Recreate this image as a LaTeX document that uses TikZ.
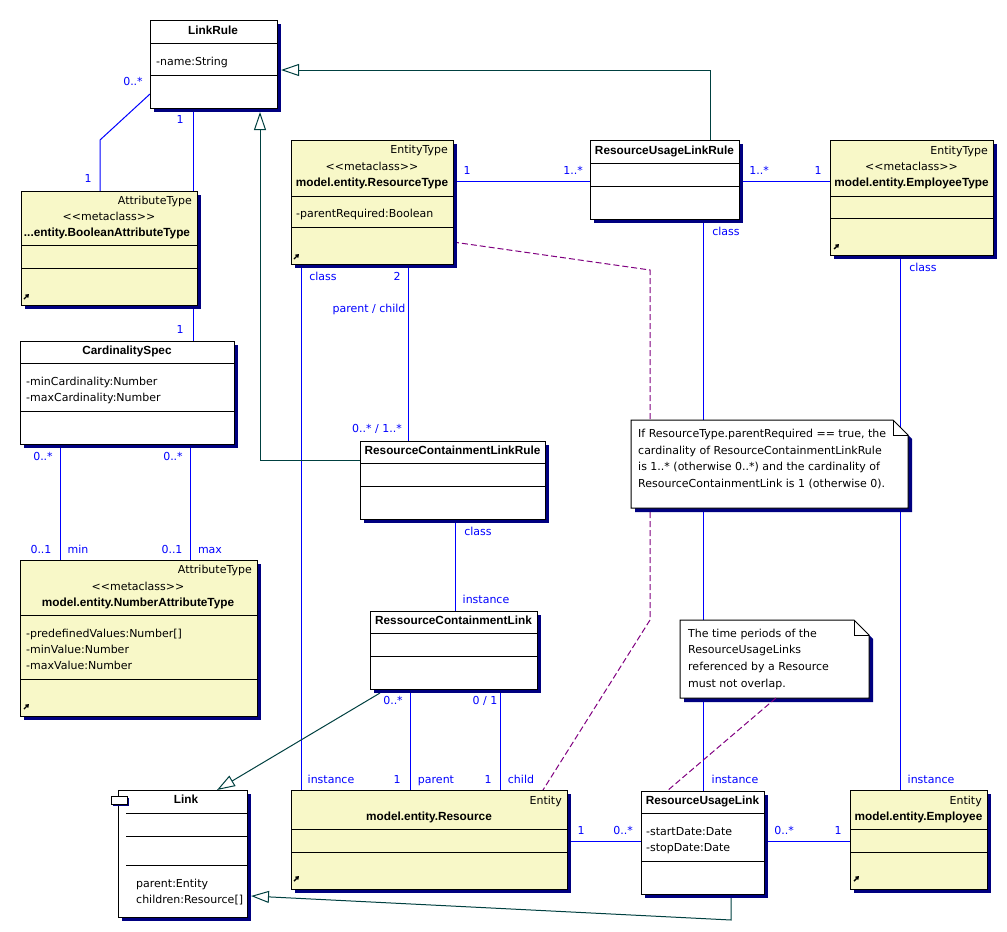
\documentclass[tikz,border=0pt]{standalone}
\usepackage{fontspec}
\setmainfont{DejaVu Sans}
\newfontfamily\bfam{Liberation Sans}
\usetikzlibrary{arrows.meta}
\definecolor{umlfill}{RGB}{248,248,200}
\definecolor{shadowc}{RGB}{0,0,128}
\definecolor{assocc}{RGB}{0,0,255}
\definecolor{genc}{RGB}{0,64,64}
\definecolor{notec}{RGB}{128,0,128}
\pgfdeclarelayer{bg}
\pgfsetlayers{bg,main}
\newcommand\ubox[6]{%
  \fill[shadowc] (#2+4,#3+4) rectangle (#4+4,#5+4);
  \node[draw=black, fill=#6, line width=1pt, inner sep=0pt, outer sep=0pt,
        minimum width={#4-#2}, minimum height={#5-#3}, anchor=north west] (#1) at (#2,#3) {};}
\newcommand\cmpline[3]{\draw[line width=1pt] (#1,#3) -- (#2,#3);}
\newcommand\icn[2]{\draw[line width=1.4pt,-{Triangle[length=3.5pt,width=4.5pt]}] (#1-2,#2+3) -- ++(5,-5);}
\newcommand\Tc[4]{\node[txt,anchor=base] (#1) at (#2,#3+4) {#4};}
\newcommand\Tl[4]{\node[txt,anchor=base west] (#1) at (#2,#3+4) {#4};}
\newcommand\Tr[4]{\node[txt,anchor=base east] (#1) at (#2,#3+4) {#4};}
\newcommand\Tb[4]{\node[txtb,anchor=base] (#1) at (#2,#3+4) {#4};}
\newcommand\Lb[4]{\node[lbl,anchor=base] (#1) at (#2,#3+4) {#4};}
\newcommand\meta{\textless\kern0pt\textless\kern0pt metaclass\kern0pt\textgreater\kern0pt\textgreater}
\tikzset{
  txt/.style={inner sep=0pt, font=\fontsize{11}{13}\selectfont},
  txtb/.style={inner sep=0pt, font=\bfam\fontsize{11.8}{13}\selectfont\bfseries},
  lbl/.style={txt, text=assocc},
  assoc/.style={draw=assocc, line width=1pt},
  gen/.style={draw=genc, line width=1pt, -{Triangle[open,fill=white,length=18pt,width=12pt]}},
  dep/.style={draw=notec, line width=1pt, dash pattern=on 6pt off 3pt},
  notebg/.style={draw=none, inner sep=0pt, outer sep=0pt, anchor=north west},
}
\begin{document}
\begin{tikzpicture}[x=1pt,y=-1pt]
\useasboundingbox (0,0) rectangle (1007,932);

% ---------- boxes ----------
\ubox{LinkRule}{150}{20}{277}{108}{white}
\cmpline{150}{277}{43}\cmpline{150}{277}{75}
\ubox{Bool}{21}{191}{197}{305}{umlfill}
\cmpline{21}{197}{245}\cmpline{21}{197}{268}
\ubox{Card}{20}{341}{234}{444}{white}
\cmpline{20}{234}{363}\cmpline{20}{234}{411}
\ubox{Num}{20}{560}{257}{716}{umlfill}
\cmpline{20}{257}{615}\cmpline{20}{257}{679}
\ubox{RT}{291}{140}{453}{264}{umlfill}
\cmpline{291}{453}{196}\cmpline{291}{453}{227}
\ubox{RULR}{590}{140}{739}{219}{white}
\cmpline{590}{739}{163}\cmpline{590}{739}{186}
\ubox{ET}{830}{140}{993}{255}{umlfill}
\cmpline{830}{993}{196}\cmpline{830}{993}{218}
\ubox{RCLR}{360}{441}{545}{519}{white}
\cmpline{360}{545}{463}\cmpline{360}{545}{486}
\ubox{RCL}{370}{611}{537}{689}{white}
\cmpline{370}{537}{633}\cmpline{370}{537}{656}
\ubox{Link}{118}{790}{247}{917}{white}
\cmpline{126}{247}{813}\cmpline{126}{247}{836}\cmpline{126}{247}{865}
\fill[shadowc] (113,798) rectangle (129,806);
\draw[fill=white,line width=1pt] (111,796) rectangle (127,804);
\ubox{Res}{291}{790}{567}{889}{umlfill}
\cmpline{291}{567}{829}\cmpline{291}{567}{852}
\ubox{RUL}{641}{791}{764}{894}{white}
\cmpline{641}{764}{813}\cmpline{641}{764}{861}
\ubox{Emp}{850}{790}{987}{889}{umlfill}
\cmpline{850}{987}{829}\cmpline{850}{987}{852}

% ---------- connectors ----------
\begin{pgfonlayer}{bg}
\draw[assoc] (LinkRule.west |- 0,94) -- (100,140) -- (100,0 |- Bool.north);
\draw[assoc] (193,0 |- LinkRule.south) -- (193,0 |- Bool.north);
\draw[assoc] (193,0 |- Bool.south) -- (193,0 |- Card.north);
\draw[assoc] (60,0 |- Card.south) -- (60,0 |- Num.north);
\draw[assoc] (190,0 |- Card.south) -- (190,0 |- Num.north);
\draw[assoc] (RT.east |- 0,181) -- (RULR.west |- 0,181);
\draw[assoc] (RULR.east |- 0,181) -- (ET.west |- 0,181);
\draw[assoc] (301,0 |- RT.south) -- (301,0 |- Res.north);
\draw[assoc] (408,0 |- RT.south) -- (408,0 |- RCLR.north);
\draw[assoc] (455,0 |- RCLR.south) -- (455,0 |- RCL.north);
\draw[assoc] (410,0 |- RCL.south) -- (410,0 |- Res.north);
\draw[assoc] (500,0 |- RCL.south) -- (500,0 |- Res.north);
\draw[assoc] (703,0 |- RULR.south) -- (703,0 |- RUL.north);
\draw[assoc] (900,0 |- ET.south) -- (900,0 |- Emp.north);
\draw[assoc] (Res.east |- 0,841) -- (RUL.west |- 0,841);
\draw[assoc] (RUL.east |- 0,841) -- (Emp.west |- 0,841);
\draw[gen] (710,0 |- RULR.north) -- (710,70) -- ([xshift=4]LinkRule.east |- 0,70);
\draw[gen] (RCLR.west |- 0,460) -- (260,460) -- (260,112);
\draw[gen] (380,693) -- (217,0 |- Link.north);
\draw[gen] (731,0 |- RUL.south) -- (731,920) -- ([xshift=4]Link.east |- 0,896);
\draw[dep] (RT.east |- 0,242) -- (650,270) -- (650,620) -- (543,0 |- Res.north);
\end{pgfonlayer}

% ---------- notes ----------
\node[notebg, minimum width=277, minimum height=88] (Note1) at (631,420) {};
\fill[shadowc] (635,424) -- (897,424) -- (912,439) -- (912,512) -- (635,512) -- cycle;
\draw[fill=white,line width=1pt] (Note1.north west) -- (893,420) -- (908,435) -- (Note1.south east) -- (Note1.south west) -- cycle;
\draw[line width=1pt] (893,420) -- (893,435) -- (908,435);
\node[notebg, minimum width=189, minimum height=78] (Note2) at (680,620) {};
\fill[shadowc] (684,624) -- (858,624) -- (873,639) -- (873,702) -- (684,702) -- cycle;
\draw[fill=white,line width=1pt] (Note2.north west) -- (854,620) -- (869,635) -- (Note2.south east) -- (Note2.south west) -- cycle;
\draw[line width=1pt] (854,620) -- (854,635) -- (869,635);
\draw[dep] (776,0 |- Note2.south) -- (667,0 |- RUL.north);

\Tl{n1a}{638}{433}{If ResourceType.parentRequired == true, the}
\Tl{n1b}{638}{450}{cardinality of ResourceContainmentLinkRule}
\Tl{n1c}{638}{466}{is 1..* (otherwise 0..*) and the cardinality of}
\Tl{n1d}{638}{483}{ResourceContainmentLink is 1 (otherwise 0).}
\Tl{n2a}{688}{633}{The time periods of the}
\Tl{n2b}{688}{649}{ResourceUsageLinks}
\Tl{n2c}{688}{666}{referenced by a Resource}
\Tl{n2d}{688}{683}{must not overlap.}

% ---------- box texts ----------
\Tb{tLR}{213}{30}{LinkRule}
\Tl{tLRa}{156}{61}{-name:String}
\Tr{tBs}{192}{200}{AttributeType}
\Tc{tBm}{109}{216}{\meta}
\Tb{tBn}{107}{232}{...entity.BooleanAttributeType}
\icn{26}{296}
\Tb{tCS}{127}{350}{CardinalitySpec}
\Tl{tCSa}{26}{381}{-minCardinality:Number}
\Tl{tCSb}{26}{397}{-maxCardinality:Number}
\Tr{tNs}{252}{569}{AttributeType}
\Tc{tNm}{138}{586}{\meta}
\Tb{tNn}{138}{602}{model.entity.NumberAttributeType}
\Tl{tNa}{26}{633}{-predefinedValues:Number[]}
\Tl{tNb}{26}{649}{-minValue:Number}
\Tl{tNc}{26}{665}{-maxValue:Number}
\icn{26}{706}
\Tr{tRTs}{448}{149}{EntityType}
\Tc{tRTm}{372}{166}{\meta}
\Tb{tRTn}{372}{182}{model.entity.ResourceType}
\Tl{tRTa}{296}{213}{-parentRequired:Boolean}
\icn{296}{256}
\Tb{tRULR}{664.5}{150}{ResourceUsageLinkRule}
\Tr{tETs}{988}{150}{EntityType}
\Tc{tETm}{911.5}{166}{\meta}
\Tb{tETn}{911.5}{182}{model.entity.EmployeeType}
\icn{836}{246}
\Tb{tRCLR}{452.5}{450}{ResourceContainmentLinkRule}
\Tb{tRCL}{453.5}{620}{RessourceContainmentLink}
\Tb{tLink}{186}{799}{Link}
\Tl{tLa}{136}{883}{parent:Entity}
\Tl{tLb}{136}{899}{children:Resource[]}
\Tr{tRs}{562}{800}{Entity}
\Tb{tRn}{429}{816}{model.entity.Resource}
\icn{296}{878}
\Tb{tRUL}{702.5}{800}{ResourceUsageLink}
\Tl{tRULa}{646}{831}{-startDate:Date}
\Tl{tRULb}{646}{847}{-stopDate:Date}
\Tr{tEs}{982}{800}{Entity}
\Tb{tEn}{918.5}{816}{model.entity.Employee}
\icn{856}{878}

% ---------- labels ----------
\Lb{l1}{133}{81}{0..*}
\Lb{l2}{180}{119}{1}
\Lb{l3}{88}{178}{1}
\Lb{l4}{180}{329}{1}
\Lb{l5}{43}{456}{0..*}
\Lb{l6}{173}{456}{0..*}
\Lb{l7}{41}{549}{0..1}
\Lb{l8}{78}{549}{min}
\Lb{l9}{172}{549}{0..1}
\Lb{l10}{210}{549}{max}
\Lb{l11}{467}{170}{1}
\Lb{l12}{573}{170}{1..*}
\Lb{l13}{759}{170}{1..*}
\Lb{l14}{818}{170}{1}
\Lb{l15}{323}{276}{class}
\Lb{l16}{397}{276}{2}
\Lb{l17}{369}{308}{parent / child}
\Lb{l18}{726}{231}{class}
\Lb{l19}{923}{267}{class}
\Lb{l20}{377}{428}{0..* / 1..*}
\Lb{l21}{478}{531}{class}
\Lb{l22}{486}{599}{instance}
\Lb{l23}{393}{700}{0..*}
\Lb{l24}{485}{700}{0 / 1}
\Lb{l25}{331}{779}{instance}
\Lb{l26}{397}{779}{1}
\Lb{l27}{436}{779}{parent}
\Lb{l28}{488}{779}{1}
\Lb{l29}{521}{779}{child}
\Lb{l30}{735}{779}{instance}
\Lb{l31}{931}{779}{instance}
\Lb{l32}{581}{830}{1}
\Lb{l33}{623}{830}{0..*}
\Lb{l34}{784}{830}{0..*}
\Lb{l35}{838}{830}{1}
\end{tikzpicture}
\end{document}
